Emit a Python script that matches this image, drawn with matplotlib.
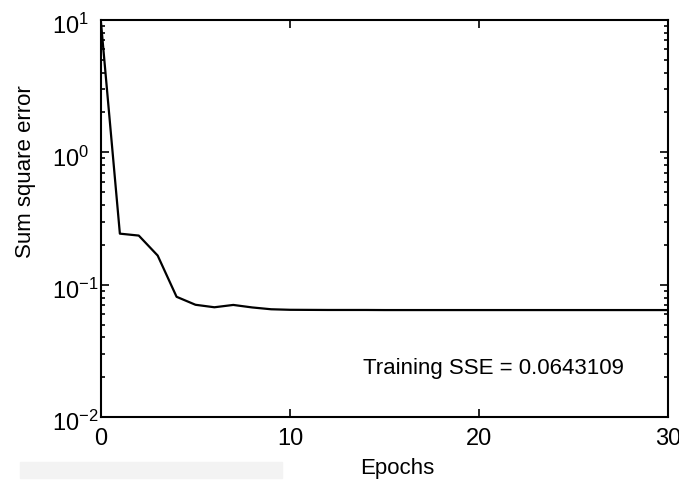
import matplotlib
matplotlib.use("Agg")
import matplotlib.pyplot as plt
import matplotlib.patches as mpatches
import matplotlib.transforms as mtransforms
from matplotlib.ticker import LogLocator, NullFormatter, FixedLocator

plt.rcParams["font.family"] = ["Liberation Sans", "DejaVu Sans"]
plt.rcParams["mathtext.fontset"] = "custom"
plt.rcParams["mathtext.rm"] = "Liberation Sans"
plt.rcParams["mathtext.it"] = "Liberation Sans:italic"
plt.rcParams["mathtext.bf"] = "Liberation Sans:bold"

epochs = [0, 1, 2, 3, 4, 5, 6, 7, 8, 9, 10, 11, 12, 13, 14, 15,
          16, 17, 18, 19, 20, 21, 22, 23, 24, 25, 26, 27, 28, 29, 30]
sse = [9.6, 0.243, 0.235, 0.166, 0.081, 0.0705, 0.0675, 0.0703, 0.0673,
       0.0652, 0.0646, 0.0645, 0.0644, 0.0644, 0.0644, 0.0643, 0.0643,
       0.0643, 0.0643, 0.0643, 0.0643, 0.0643, 0.0643, 0.0643, 0.0643,
       0.0643, 0.0643, 0.0643, 0.0643, 0.0643, 0.0643]

x_ticks = [0, 10, 20, 30]
y_ticks = [1e-2, 1e-1, 1e0, 1e1]
y_labels = [r"$\mathregular{10^{-2}}$", r"$\mathregular{10^{-1}}$",
            r"$\mathregular{10^{0}}$", r"$\mathregular{10^{1}}$"]
note = "Training SSE = 0.0643109"

fig = plt.figure(figsize=(6.79, 4.83), dpi=100)
ax = fig.add_axes([0.1487, 0.1366, 0.8351, 0.822])

ax.plot(epochs, sse, color="black", lw=1.6)
ax.set_yscale("log")
ax.set_xlim(0, 30)
ax.set_ylim(1e-2, 1e1)

ax.xaxis.set_major_locator(FixedLocator(x_ticks))
ax.set_xticklabels([str(t) for t in x_ticks], fontsize=17)
ax.yaxis.set_major_locator(FixedLocator(y_ticks))
ax.set_yticklabels(y_labels, fontsize=17)
ax.yaxis.set_minor_locator(LogLocator(base=10, subs=range(2, 10)))
ax.yaxis.set_minor_formatter(NullFormatter())

ax.tick_params(which="both", direction="in", top=True, right=True, width=1.2)
ax.tick_params(which="major", length=6)
ax.tick_params(axis="x", which="major", pad=8)
ax.tick_params(axis="y", which="major", pad=35)
ax.tick_params(which="minor", length=3)
# MATLAB-style: exponent labels start at the same x, sit a little low
shift = mtransforms.ScaledTranslation(0, -4 / 100, fig.dpi_scale_trans)
for lab in ax.get_yticklabels():
    lab.set_horizontalalignment("left")
    lab.set_transform(lab.get_transform() + shift)
for s in ax.spines.values():
    s.set_linewidth(1.5)

ax.set_xlabel("Epochs", fontsize=16)
ax.set_ylabel("Sum square error", fontsize=16)
ax.xaxis.set_label_coords(0.522, -0.103)
ax.yaxis.set_label_coords(-0.115, 0.617)
ax.text(13.85, 0.0232, note, fontsize=16, va="center", ha="left")

# faint grey strip under the axis, as in the scan
fig.patches.append(mpatches.Rectangle((0.0295, 0.0104), 0.386, 0.033,
                                      transform=fig.transFigure,
                                      color="#f3f3f3", zorder=-1))

fig.savefig("out.png", dpi=100)
